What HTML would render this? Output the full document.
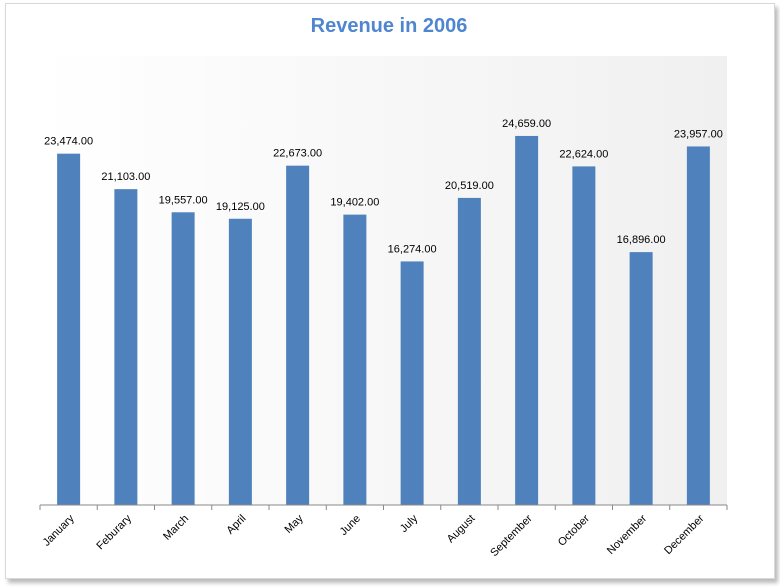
<!DOCTYPE html>
<html><head><meta charset="utf-8"><style>
body{margin:0;background:#fff;width:780px;height:587px;overflow:hidden;font-family:"Liberation Sans",sans-serif}
#card{position:absolute;left:5px;top:3px;width:768px;height:574px;background:#fff;border:1px solid #d8d8d8;box-shadow:3px 4px 4px #bbb}
</style></head><body>
<div id="card"></div>
<svg id="chart" width="780" height="587" style="position:absolute;left:0;top:0">
<defs><linearGradient id="bg" x1="0" x2="1" y1="0" y2="0"><stop offset="0" stop-color="#ffffff"/><stop offset="1" stop-color="#f0f0f0"/></linearGradient></defs>
<text x="389" y="32" text-anchor="middle" font-size="20" font-weight="bold" fill="#4f86d0">Revenue in 2006</text>
<rect x="40" y="56" width="687" height="449" fill="url(#bg)"/>
<g id="bars"></g>
</svg>
<script>
const categories=["January","Feburary","March","April","May","June","July","August","September","October","November","December"];
const values=[23474,21103,19557,19125,22673,19402,16274,20519,24659,22624,16896,23957];
const yMax=30000;
const L=40,R=727,T=56,B=505;
const bw=(R-L)/categories.length;
const xScale=i=>L+bw*i;
const yScale=v=>B-(v/yMax)*(B-T);
const g=document.getElementById('bars');
const NS='http://www.w3.org/2000/svg';
function mk(t,a){const e=document.createElementNS(NS,t);for(const k in a)e.setAttribute(k,a[k]);g.appendChild(e);return e;}
values.forEach((v,i)=>{
  const cx=xScale(i)+bw/2;
  const r=mk('rect',{x:cx-11.5,y:yScale(v),width:23,height:B-yScale(v),fill:'#4f81bd'});
  
  
  const t=mk('text',{x:cx,y:yScale(v)-9,'text-anchor':'middle','font-size':'11',fill:'#000'});
  t.textContent=v.toLocaleString('en-US',{minimumFractionDigits:2});
  
  
  const lb=mk('text',{x:cx+6,y:B+14,'text-anchor':'end','font-size':'11',fill:'#000',transform:`rotate(-45 ${cx+6} ${B+14})`});
  lb.textContent=categories[i];
  
  
});
for(let i=0;i<=categories.length;i++){
  const tk=mk('line',{x1:xScale(i),x2:xScale(i),y1:B,y2:B+5,stroke:'#888'});
  
  
}
const ax=mk('line',{x1:L,x2:R,y1:B,y2:B,stroke:'#888'});


</script>
</body></html>
